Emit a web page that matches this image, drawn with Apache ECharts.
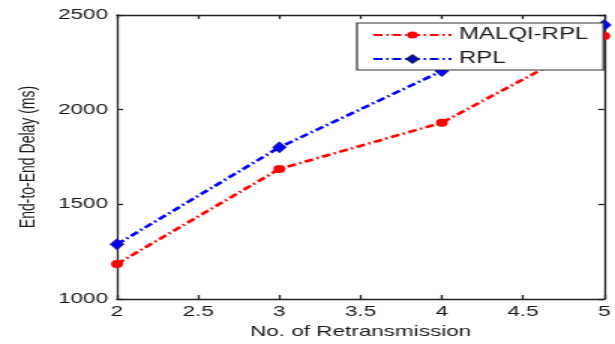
<!DOCTYPE html>
<html>
<head>
<meta charset="utf-8">
<script src="https://cdn.jsdelivr.net/npm/echarts@6/dist/echarts.min.js"></script>
<style>
html,body{margin:0;padding:0;background:#fff;overflow:hidden;}
#wrap{width:615px;height:344px;overflow:hidden;}
#chart{width:410px;height:344px;transform:scaleX(1.5);transform-origin:0 0;}
</style>
</head>
<body>
<div id="wrap"><div id="chart"></div></div>
<script>
const xValues = [2, 3, 4, 5];
const malqiRpl = [1185, 1687, 1931, 2389];
const rpl = [1289, 1801, 2204, 2447];
const seriesNames = ['MALQI-RPL', 'RPL'];
const xAxisTitle = 'No. of Retransmission';
const yAxisTitle = 'End-to-End Delay (ms)';

const chart = echarts.init(document.getElementById('chart'), null, {renderer: 'canvas'});
const font = 'Liberation Sans, Arial, sans-serif';
const axisColor = '#222';
const dashDot = [6, 2.5, 1.5, 2.5];

const baseAxis = {
  axisLine: {show: true, onZero: false, lineStyle: {color: axisColor, width: 1.3}},
  axisTick: {show: true, inside: true, length: 4, lineStyle: {color: axisColor, width: 1.3}},
  splitLine: {show: false}
};

chart.setOption({
  animation: false,
  backgroundColor: '#fff',
  grid: {left: 78, right: 2.7, top: 15, bottom: 45},
  legend: {
    orient: 'vertical',
    left: 238,
    top: 23,
    data: seriesNames,
    itemWidth: 52,
    itemHeight: 9,
    itemGap: 8,
    padding: [4, 10, 3, 10],
    borderColor: '#333',
    borderWidth: 1.2,
    backgroundColor: '#fff',
    textStyle: {fontFamily: font, fontSize: 16, color: '#1a1a1a'}
  },
  xAxis: [
    Object.assign({}, baseAxis, {
      type: 'value', min: 2, max: 5, interval: 0.5, position: 'bottom',
      name: xAxisTitle, nameLocation: 'middle', nameGap: 21,
      nameTextStyle: {fontFamily: font, fontSize: 15, color: '#1a1a1a'},
      axisLabel: {fontFamily: font, fontSize: 15, color: '#1a1a1a', margin: 5,
        formatter: v => String(v)}
    }),
    Object.assign({}, baseAxis, {
      type: 'value', min: 2, max: 5, interval: 0.5, position: 'top',
      axisLabel: {show: false}
    })
  ],
  yAxis: [
    Object.assign({}, baseAxis, {
      type: 'value', min: 1000, max: 2500, interval: 500, position: 'left',
      name: yAxisTitle, nameLocation: 'middle', nameGap: 52,
      nameTextStyle: {fontFamily: font, fontSize: 14, color: '#1a1a1a'},
      axisLabel: {fontFamily: font, fontSize: 15, color: '#1a1a1a', margin: 6,
        formatter: v => String(v)}
    }),
    Object.assign({}, baseAxis, {
      type: 'value', min: 1000, max: 2500, interval: 500, position: 'right',
      axisLabel: {show: false}
    })
  ],
  series: [
    {
      name: seriesNames[0], type: 'line',
      data: xValues.map((x, i) => [x, malqiRpl[i]]),
      symbol: 'circle', symbolSize: 8,
      itemStyle: {color: '#ff0000'},
      lineStyle: {color: '#ff0000', width: 2.6, type: dashDot},
      z: 3
    },
    {
      name: seriesNames[1], type: 'line',
      data: xValues.map((x, i) => [x, rpl[i]]),
      symbol: 'diamond', symbolSize: [9, 11],
      itemStyle: {color: '#0000ff', borderColor: '#1a1a6e', borderWidth: 0.8},
      lineStyle: {color: '#0000ff', width: 2.6, type: dashDot},
      z: 3
    }
  ]
});
</script>
</body>
</html>
